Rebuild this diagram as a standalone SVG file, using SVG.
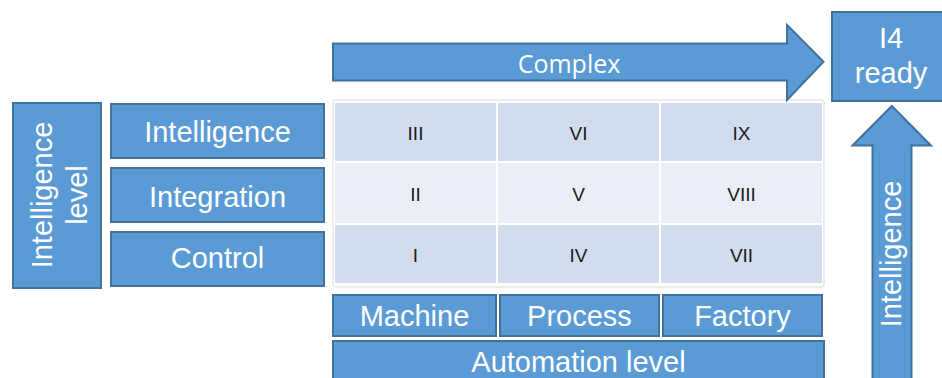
<svg xmlns="http://www.w3.org/2000/svg" width="942" height="378" viewBox="0 0 942 378">
  <style>
    .box { fill: #5B9BD5; stroke: #41719C; stroke-width: 2; }
    .lbl { fill: #FFFFFF; font-family: "Liberation Sans", Arial, sans-serif; font-size: 29px; text-anchor: middle; }
    .cell-a { fill: #D1DDEF; }
    .cell-b { fill: #E9EEF7; }
    .num { fill: #1A1A1A; font-family: "Liberation Sans", Arial, sans-serif; font-size: 19px; text-anchor: middle; }
  </style>
  <rect x="0" y="0" width="942" height="378" fill="#FFFFFF"/>

  <!-- vertical axis title -->
  <g id="intelligence-level">
    <rect class="box" x="13" y="103" width="88" height="185"/>
    <text class="lbl" transform="translate(52,195) rotate(-90)">Intelligence</text>
    <text class="lbl" transform="translate(87,195) rotate(-90)">level</text>
  </g>

  <!-- intelligence rows -->
  <g id="row-intelligence">
    <rect class="box" x="111" y="104" width="213" height="54"/>
    <text class="lbl" x="217.5" y="142">Intelligence</text>
  </g>
  <g id="row-integration">
    <rect class="box" x="111" y="168" width="213" height="54"/>
    <text class="lbl" x="217.5" y="206.5">Integration</text>
  </g>
  <g id="row-control">
    <rect class="box" x="111" y="232" width="213" height="54"/>
    <text class="lbl" x="217.5" y="268">Control</text>
  </g>

  <!-- 3x3 matrix -->
  <g id="matrix">
    <rect x="333" y="100" width="491" height="187" fill="#FFFFFF" stroke="#D9D9D9" stroke-width="1" rx="2"/>
    <rect class="cell-a" x="335" y="103" width="161" height="58"/>
    <rect class="cell-a" x="498" y="103" width="161" height="58"/>
    <rect class="cell-a" x="661" y="103" width="161" height="58"/>
    <rect class="cell-b" x="335" y="163" width="161" height="60"/>
    <rect class="cell-b" x="498" y="163" width="161" height="60"/>
    <rect class="cell-b" x="661" y="163" width="161" height="60"/>
    <rect class="cell-a" x="335" y="225" width="161" height="58"/>
    <rect class="cell-a" x="498" y="225" width="161" height="58"/>
    <rect class="cell-a" x="661" y="225" width="161" height="58"/>
    <text class="num" x="415.5" y="140">III</text>
    <text class="num" x="578.5" y="140">VI</text>
    <text class="num" x="741.5" y="140">IX</text>
    <text class="num" x="415.5" y="200.5">II</text>
    <text class="num" x="578.5" y="200.5">V</text>
    <text class="num" x="741.5" y="200.5">VIII</text>
    <text class="num" x="415.5" y="261.5">I</text>
    <text class="num" x="578.5" y="261.5">IV</text>
    <text class="num" x="741.5" y="261.5">VII</text>
  </g>

  <!-- automation columns -->
  <g id="col-machine">
    <rect class="box" x="333" y="295" width="163" height="41"/>
    <text class="lbl" x="414.5" y="325.5">Machine</text>
  </g>
  <g id="col-process">
    <rect class="box" x="500" y="295" width="159" height="41"/>
    <text class="lbl" x="579.5" y="325.5">Process</text>
  </g>
  <g id="col-factory">
    <rect class="box" x="663" y="295" width="159" height="41"/>
    <text class="lbl" x="742.5" y="325.5">Factory</text>
  </g>
  <g id="automation-level">
    <rect class="box" x="333" y="341" width="491" height="50"/>
    <text class="lbl" x="578.5" y="371.5">Automation level</text>
  </g>

  <!-- target -->
  <g id="i4-ready">
    <rect class="box" x="832" y="12" width="120" height="89"/>
    <text class="lbl" x="891" y="48">I4</text>
    <text class="lbl" x="891" y="83">ready</text>
  </g>

  <!-- block arrows -->
  <g id="connectors">
    <g id="arrow-complex">
      <path class="box" d="M333 43.5 H787 V25 L823.5 61.7 L787 100 V80.5 H333 Z"/>
      <text x="569" y="72.5" fill="#FFFFFF" font-family="'Open Sans', 'Liberation Sans', sans-serif" font-size="25" text-anchor="middle">Complex</text>
    </g>
    <g id="arrow-intelligence">
      <path class="box" d="M872.5 390 V145.5 H852.5 L891.8 106 L931 145.5 H911.5 V390 Z"/>
      <text class="lbl" font-size="26" transform="translate(901,254) rotate(-90)">Intelligence</text>
    </g>
  </g>
</svg>
